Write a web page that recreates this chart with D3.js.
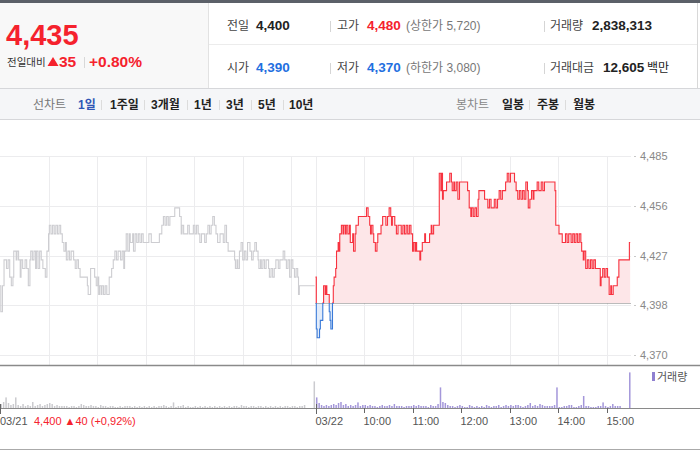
<!DOCTYPE html>
<html><head><meta charset="utf-8">
<script src="https://cdn.jsdelivr.net/npm/d3@7"></script>
<style>
html,body{margin:0;padding:0;background:#fff;}
svg{display:block;font-family:"Liberation Sans","Noto Sans CJK KR",Arial,sans-serif;}
</style></head><body>
<svg id="c" width="700" height="450"></svg>
<script>
// ---------------- DATA ----------------
const prevClose = 4400;
// [minutes since 09:00, price] for 03/21 (previous day)
const day1Ticks = [[0,4410],[1,4395],[2,4395],[3,4410],[5,4425],[7,4425],[8,4420],[10,4425],[12,4415],[14,4410],[16,4415],[17,4430],[20,4425],[21,4430],[23,4425],[25,4415],[26,4425],[28,4420],[31,4425],[33,4420],[35,4410],[37,4425],[38,4430],[40,4425],[42,4430],[44,4420],[45,4430],[47,4420],[49,4430],[51,4425],[53,4420],[56,4415],[58,4430],[60,4440],[61,4445],[63,4440],[65,4445],[67,4440],[69,4445],[71,4440],[73,4445],[75,4440],[77,4435],[79,4430],[81,4435],[82,4425],[84,4430],[86,4425],[88,4430],[91,4425],[93,4420],[95,4425],[97,4420],[99,4415],[105,4415],[108,4410],[109,4405],[110,4405],[112,4420],[115,4420],[117,4415],[119,4410],[121,4415],[122,4405],[123,4410],[125,4405],[126,4410],[128,4405],[130,4410],[132,4405],[134,4405],[135,4415],[138,4420],[140,4425],[142,4430],[144,4425],[146,4430],[149,4425],[151,4430],[153,4420],[154,4430],[156,4440],[158,4430],[160,4440],[161,4435],[164,4440],[165,4430],[167,4440],[169,4435],[171,4440],[173,4435],[175,4440],[177,4435],[181,4435],[184,4440],[187,4435],[191,4435],[195,4435],[197,4440],[200,4445],[202,4450],[204,4445],[206,4450],[208,4445],[210,4450],[212,4450],[214,4450],[216,4455],[218,4455],[220,4455],[222,4450],[224,4440],[225,4445],[227,4440],[230,4440],[232,4445],[234,4440],[237,4440],[239,4445],[241,4440],[243,4445],[245,4440],[247,4435],[249,4440],[251,4440],[253,4435],[255,4440],[257,4445],[259,4440],[261,4445],[263,4450],[265,4445],[267,4440],[269,4435],[272,4440],[274,4440],[276,4435],[278,4445],[280,4435],[282,4430],[284,4430],[288,4430],[290,4425],[291,4420],[293,4425],[294,4420],[296,4430],[298,4435],[300,4425],[302,4430],[304,4425],[306,4435],[309,4430],[311,4425],[313,4430],[315,4435],[317,4430],[319,4425],[320,4420],[322,4425],[323,4420],[325,4425],[327,4420],[329,4425],[332,4420],[333,4415],[335,4420],[337,4415],[339,4420],[341,4425],[344,4420],[346,4425],[348,4425],[350,4430],[352,4425],[354,4420],[356,4425],[358,4415],[360,4425],[362,4420],[364,4415],[366,4420],[368,4415],[369,4405],[370,4410],[372,4410],[389,4410]];
// [minutes since 09:00, price] for 03/22 (today)
const day2Ticks = [[0,4415],[1,4385],[2,4380],[3,4380],[5,4385],[6,4390],[8,4390],[9,4400],[10,4410],[12,4405],[13,4410],[14,4405],[16,4405],[17,4395],[18,4390],[19,4385],[21,4400],[22,4410],[23,4415],[25,4420],[26,4430],[28,4435],[29,4430],[30,4440],[32,4445],[34,4440],[35,4445],[37,4440],[38,4445],[40,4440],[42,4445],[43,4435],[44,4435],[46,4440],[47,4430],[49,4440],[50,4445],[52,4445],[53,4450],[58,4450],[62,4450],[63,4455],[65,4450],[67,4445],[68,4440],[69,4445],[71,4440],[72,4435],[74,4430],[76,4435],[77,4440],[79,4440],[81,4445],[83,4450],[85,4450],[87,4445],[89,4450],[91,4455],[93,4450],[94,4445],[95,4450],[98,4445],[100,4440],[102,4445],[104,4445],[106,4440],[108,4445],[110,4440],[112,4445],[114,4440],[116,4445],[118,4440],[120,4430],[121,4435],[123,4430],[124,4435],[125,4430],[127,4430],[129,4425],[130,4430],[132,4435],[135,4440],[136,4435],[137,4435],[139,4435],[141,4440],[143,4445],[144,4440],[146,4445],[149,4445],[152,4445],[153,4475],[155,4465],[156,4475],[157,4460],[158,4465],[160,4465],[162,4470],[164,4470],[166,4475],[168,4470],[169,4465],[171,4470],[172,4465],[174,4470],[176,4460],[178,4470],[182,4470],[186,4470],[188,4465],[190,4455],[192,4450],[193,4455],[195,4450],[197,4455],[199,4450],[201,4460],[202,4465],[204,4465],[207,4465],[209,4460],[211,4460],[213,4455],[215,4460],[217,4455],[219,4455],[221,4460],[223,4455],[225,4460],[227,4465],[229,4460],[231,4465],[233,4465],[235,4470],[237,4475],[239,4470],[241,4475],[244,4475],[246,4470],[248,4465],[250,4460],[252,4465],[254,4460],[256,4465],[258,4460],[260,4470],[262,4465],[263,4455],[265,4460],[267,4465],[269,4460],[270,4465],[272,4465],[274,4470],[276,4465],[279,4470],[281,4465],[283,4470],[285,4470],[289,4470],[295,4470],[296,4465],[297,4445],[299,4445],[301,4440],[303,4440],[305,4435],[307,4435],[309,4440],[311,4435],[313,4440],[316,4435],[318,4440],[320,4435],[322,4440],[324,4435],[326,4440],[328,4435],[329,4430],[331,4425],[332,4430],[334,4420],[336,4425],[338,4420],[340,4425],[342,4420],[344,4425],[346,4420],[351,4420],[352,4410],[353,4415],[355,4420],[357,4415],[359,4420],[361,4415],[363,4405],[365,4410],[366,4405],[368,4410],[371,4410],[373,4415],[375,4425],[379,4425],[388,4435],[389,4435]];
// volume per 3-minute bucket (thousand shares)
const day1Volume = [20,30,53,25,15,20,53,15,10,20, 10,15,10,30,10,15,20,10,15,20, 25,20,10,15,10,10,10,10,5,10, 10,5,10,20,15,10,10,15,10,10, 5,15,10,10,5,10,10,5,5,10, 5,10,10,10,5,10,5,10,5,10, 5,10,5,10,5,10,10,15,10,5, 10,28,5,10,10,15,5,10,5,5, 10,5,10,5,10,5,10,5,10,5, 10,5,10,5,10,5,10,10,5,15, 10,10,5,10,10,5,10,10,5,10, 5,10,5,10,5,10,5,10,10,5, 10,10,5,10,10,15,0,0,0,133];
const day2Volume = [53,25,15,10,15,10,15,20,15,25, 30,15,20,10,15,10,15,28,10,15, 15,10,15,10,10,5,10,15,10,10, 15,10,20,10,10,10,5,10,10,10, 15,10,15,10,10,10,5,15,10,10, 20,103,30,25,15,10,10,5,10,15, 10,5,5,15,10,5,10,5,10,5, 15,10,5,10,10,15,5,10,15,10, 15,10,15,15,10,5,10,15,25,10, 15,10,20,15,10,10,10,10,15,103, 5,5,10,10,15,15,5,5,10,15, 60,10,10,5,5,5,10,10,28,10, 5,10,20,10,10,10,0,0,0,178];
const yTickValues = [4370, 4398.75, 4427.5, 4456.25, 4485];
const hourLabels = ["10:00","11:00","12:00","13:00","14:00","15:00"];
const dayLabels = ["03/21","03/22"];

// ---------------- LAYOUT ----------------
const svg = d3.select("#c");
const RED = "#f5222d", BLUE = "#1f6fe0";
const DAY = 390;
const x = d3.scaleLinear().domain([0, 2*DAY]).range([0, 631]);
const y = d3.scaleLinear().domain([4370, 4485]).range([355, 156]);
const yv = d3.scaleLinear().domain([0, 180]).range([408, 372]);

// header
svg.append("rect").attr("x",0).attr("y",0).attr("width",700).attr("height",450).attr("fill","#fff");
svg.append("rect").attr("x",0).attr("y",3).attr("width",208).attr("height",85).attr("fill","#f8f8f8");
svg.append("rect").attr("x",0).attr("y",0).attr("width",700).attr("height",3).attr("fill","#5b6068");
svg.append("line").attr("x1",208.5).attr("x2",208.5).attr("y1",3).attr("y2",88).attr("stroke","#e2e2e2");
svg.append("line").attr("x1",697.5).attr("x2",697.5).attr("y1",3).attr("y2",88).attr("stroke","#d8d8d8");
svg.append("line").attr("x1",209).attr("x2",697).attr("y1",44.5).attr("y2",44.5).attr("stroke","#ececec");
// tab bar
svg.append("rect").attr("x",0).attr("y",88).attr("width",700).attr("height",31).attr("fill","#f5f6f8");
svg.append("line").attr("x1",0).attr("x2",700).attr("y1",88.5).attr("y2",88.5).attr("stroke","#d6d7da");
svg.append("line").attr("x1",0).attr("x2",700).attr("y1",119.5).attr("y2",119.5).attr("stroke","#d6d7da");

function txt(s, tx, ty, size, color, weight, anchor){
  return svg.append("text").attr("x",tx).attr("y",ty).attr("font-size",size)
    .attr("fill",color).attr("font-weight",weight||"normal").attr("text-anchor",anchor||"start").text(s);
}
function sep(sx, y1, y2, c){ svg.append("line").attr("x1",sx+0.5).attr("x2",sx+0.5).attr("y1",y1).attr("y2",y2).attr("stroke",c||"#d5d5d5"); }

txt("4,435", 6, 45, 29, RED, "bold");
txt("전일대비", 7, 66, 10.5, "#333");
svg.append("path").attr("d","M47.5,66 L53,57 L58.5,66 Z").attr("fill",RED);
txt("35", 59, 67, 15.5, RED, "bold");
sep(84, 57, 68, "#d8d8d8");
txt("+0.80%", 89, 67, 15.5, RED, "bold");

txt("전일", 227, 30, 12, "#444");
txt("4,400", 256, 30, 13.5, "#222", "bold");
sep(330, 21, 32);
txt("고가", 337, 30, 12, "#444");
txt("4,480", 367, 30, 13.5, RED, "bold");
txt("(상한가 5,720)", 406, 30, 12, "#777");
sep(544, 21, 32);
txt("거래량", 550, 30, 12, "#444");
txt("2,838,313", 592, 30, 13.5, "#222", "bold");

txt("시가", 227, 72, 12, "#444");
txt("4,390", 256, 72, 13.5, BLUE, "bold");
sep(330, 63, 74);
txt("저가", 337, 72, 12, "#444");
txt("4,370", 367, 72, 13.5, BLUE, "bold");
txt("(하한가 3,080)", 406, 72, 12, "#777");
sep(544, 63, 74);
txt("거래대금", 550, 72, 12, "#444");
txt("12,605", 603, 72, 13.5, "#222", "bold");
txt("백만", 647, 72, 12, "#222");

// tabs
txt("선차트", 33, 109, 12, "#777");
txt("1일", 78, 109, 12, "#2f55b5", "bold");
const tabs = [["1주일",110],["3개월",151],["1년",194],["3년",226],["5년",258],["10년",289]];
[101,144,187,219,251,283].forEach(s => sep(s, 100, 110, "#dcdcdc"));
tabs.forEach(t => txt(t[0], t[1], 109, 12, "#222", "bold"));
txt("봉차트", 456, 109, 12, "#888");
txt("일봉", 502, 109, 12, "#222", "bold");
sep(529, 100, 110, "#dcdcdc");
txt("주봉", 537, 109, 12, "#222", "bold");
sep(565, 100, 110, "#dcdcdc");
txt("월봉", 573, 109, 12, "#222", "bold");

// grid
const g = svg.append("g");
yTickValues.forEach(v => {
  const yy = Math.round(y(v))+0.5;
  g.append("line").attr("x1",0).attr("x2",x(2*DAY)).attr("y1",yy).attr("y2",yy).attr("stroke","#ececee");
  g.append("line").attr("x1",634).attr("x2",636).attr("y1",yy).attr("y2",yy).attr("stroke","#c8c8c8");
  txt(d3.format(",")(Math.floor(v)), 640, y(v)+4, 11, "#888");
});
const vGrid = [];
for (let d=0; d<2; d++) for (let h=1; h<=6; h++) vGrid.push(d*DAY + h*60);
vGrid.push(DAY);
vGrid.forEach(m => {
  g.append("line").attr("x1",Math.round(x(m))+0.5).attr("x2",Math.round(x(m))+0.5).attr("y1",156).attr("y2",365).attr("stroke","#ececee");
});

// price lines
const base = y(prevClose);
const defs = svg.append("defs");
defs.append("clipPath").attr("id","up").append("rect").attr("x",0).attr("y",0).attr("width",700).attr("height",base);
defs.append("clipPath").attr("id","dn").append("rect").attr("x",0).attr("y",base).attr("width",700).attr("height",450-base);

const line1 = d3.line().x(d=>x(d[0])).y(d=>y(d[1])).curve(d3.curveStepAfter);
const line2 = d3.line().x(d=>x(DAY+d[0])).y(d=>y(d[1])).curve(d3.curveStepAfter);
const area2 = d3.area().x(d=>x(DAY+d[0])).y0(base).y1(d=>y(d[1])).curve(d3.curveStepAfter);

svg.append("path").datum(day1Ticks).attr("d",line1).attr("fill","none").attr("stroke","#cdcdd1").attr("stroke-width",1.1);
svg.append("path").datum(day2Ticks).attr("d",area2).attr("fill","#fde6e8").attr("clip-path","url(#up)");
svg.append("path").datum(day2Ticks).attr("d",area2).attr("fill","#e2ecfa").attr("clip-path","url(#dn)");
svg.append("line").attr("x1",x(DAY)).attr("x2",x(2*DAY)).attr("y1",Math.round(base)+0.5).attr("y2",Math.round(base)+0.5)
  .attr("stroke","#777").attr("stroke-dasharray","1,1");
svg.append("path").datum(day2Ticks).attr("d",line2).attr("fill","none").attr("stroke","#f7323f").attr("stroke-width",1.1).attr("clip-path","url(#up)");
svg.append("path").datum(day2Ticks).attr("d",line2).attr("fill","none").attr("stroke","#3a7ad8").attr("stroke-width",1.1).attr("clip-path","url(#dn)");

// panel separators
svg.append("line").attr("x1",0).attr("x2",700).attr("y1",365.5).attr("y2",365.5).attr("stroke","#8a8a8a").attr("stroke-width",1.3);

// volume
svg.append("g").selectAll("rect").data(day1Volume).join("rect")
  .attr("x",(v,i)=>x(i*3+1.5)-0.75).attr("width",1.5)
  .attr("y",v=>yv(v)).attr("height",v=>408-yv(v)).attr("fill","#cbcbcf");
svg.append("g").selectAll("rect").data(day2Volume).join("rect")
  .attr("x",(v,i)=>x(DAY+i*3+1.5)-0.75).attr("width",1.5)
  .attr("y",v=>yv(v)).attr("height",v=>408-yv(v)).attr("fill","#a497da");
svg.append("line").attr("x1",0).attr("x2",700).attr("y1",408.5).attr("y2",408.5).attr("stroke","#8a8a8a");
svg.append("rect").attr("x",652).attr("y",372).attr("width",3).attr("height",9).attr("fill","#8f80d0");
txt("거래량", 657, 381, 11, "#555");

// x axis
[0, DAY].forEach(m => {
  svg.append("line").attr("x1",Math.round(x(m))+0.5).attr("x2",Math.round(x(m))+0.5).attr("y1",404).attr("y2",414).attr("stroke","#666");
});
hourLabels.forEach((lab,i) => {
  const m = DAY + (i+1)*60;
  const px = Math.round(x(m))+0.5;
  svg.append("line").attr("x1",px).attr("x2",px).attr("y1",408).attr("y2",413).attr("stroke","#666");
  txt(lab, px-1, 425, 11, "#555");
});
txt(dayLabels[0], 0, 425, 11, "#555");
txt(dayLabels[1], x(DAY), 425, 11, "#555");
txt("4,400 ▲40 (+0,92%)", 34, 425, 11, RED);

svg.append("line").attr("x1",0).attr("x2",700).attr("y1",449.5).attr("y2",449.5).attr("stroke","#aaa");
</script>
</body></html>
